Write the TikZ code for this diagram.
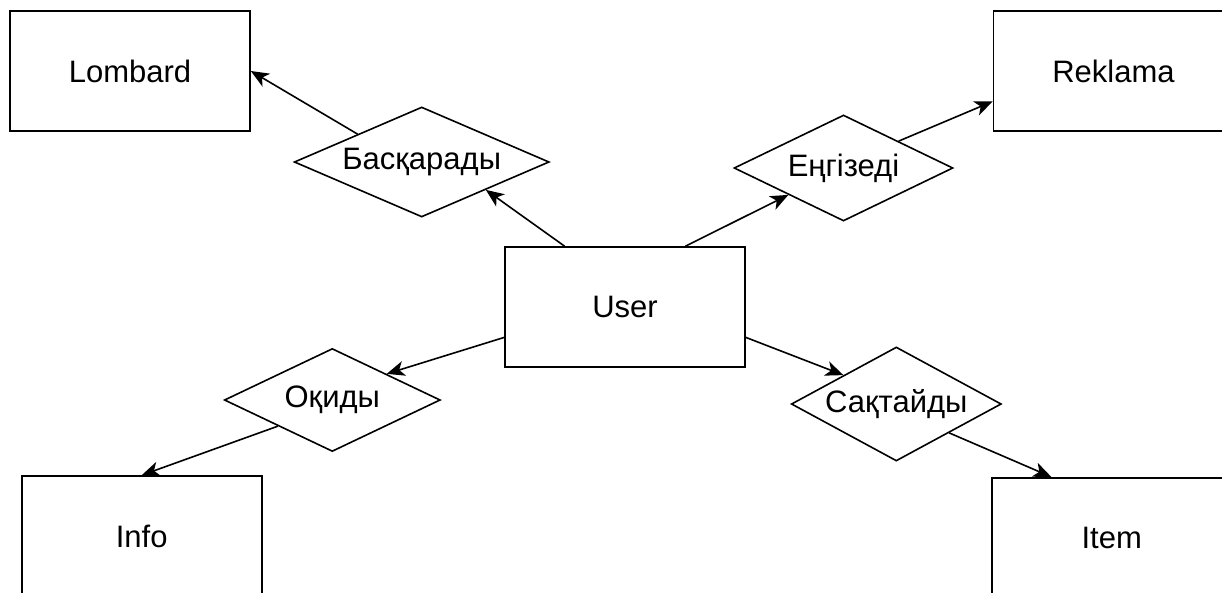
\documentclass[tikz,border=0pt]{standalone}
\usepackage{fontspec}
\setmainfont{Liberation Sans}
\usetikzlibrary{shapes.geometric,arrows.meta,calc}
\begin{document}
\begin{tikzpicture}[x=1pt,y=-1pt,
  entity/.style={draw, line width=1.6pt, minimum width=240pt, minimum height=120pt, inner sep=0pt, font=\fontsize{31}{36}\selectfont},
  rel/.style={draw, diamond, shape aspect=2.2, line width=1.6pt, inner sep=0pt, font=\fontsize{31}{36}\selectfont},
  conn/.style={line width=1.6pt, -{Stealth[length=18pt,width=15pt,inset=5pt]}}]
\useasboundingbox (0,0) rectangle (1222,592);
\node[entity] (lombard) at (130,71) {Lombard};
\node[entity] (reklama) at (1113.5,71) {Reklama};
\node[entity] (user) at (625,307) {User};
\node[entity] (info) at (141.7,536) {Info};
\node[entity] (item) at (1111.7,537.7) {Item};
\node[rel, minimum width=255pt, minimum height=110pt] (bas) at (421.7,162) {Басқарады};
\node[rel, minimum width=219pt, minimum height=106pt] (eng) at (843.5,168) {Еңгізеді};
\node[rel, minimum width=216pt, minimum height=103pt] (oq) at (332.3,400) {Оқиды};
\node[rel, minimum width=210pt, minimum height=114pt] (sak) at (896.3,404) {Сақтайды};
\draw[conn] (bas.north west) -- (lombard.east);
\draw[conn] ($(user.north west)!0.25!(user.north east)$) -- (bas.south east);
\draw[conn] ($(user.north west)!0.75!(user.north east)$) -- (eng.south west);
\draw[conn] (eng.north east) -- ($(reklama.north west)!0.75!(reklama.south west)$);
\draw[conn] ($(user.north west)!0.75!(user.south west)$) -- (oq.north east);
\draw[conn] (oq.south west) -- (info.north);
\draw[conn] ($(user.north east)!0.75!(user.south east)$) -- (sak.north west);
\draw[conn] (sak.south east) -- ($(item.north west)!0.25!(item.north east)$);
\end{tikzpicture}
\end{document}
